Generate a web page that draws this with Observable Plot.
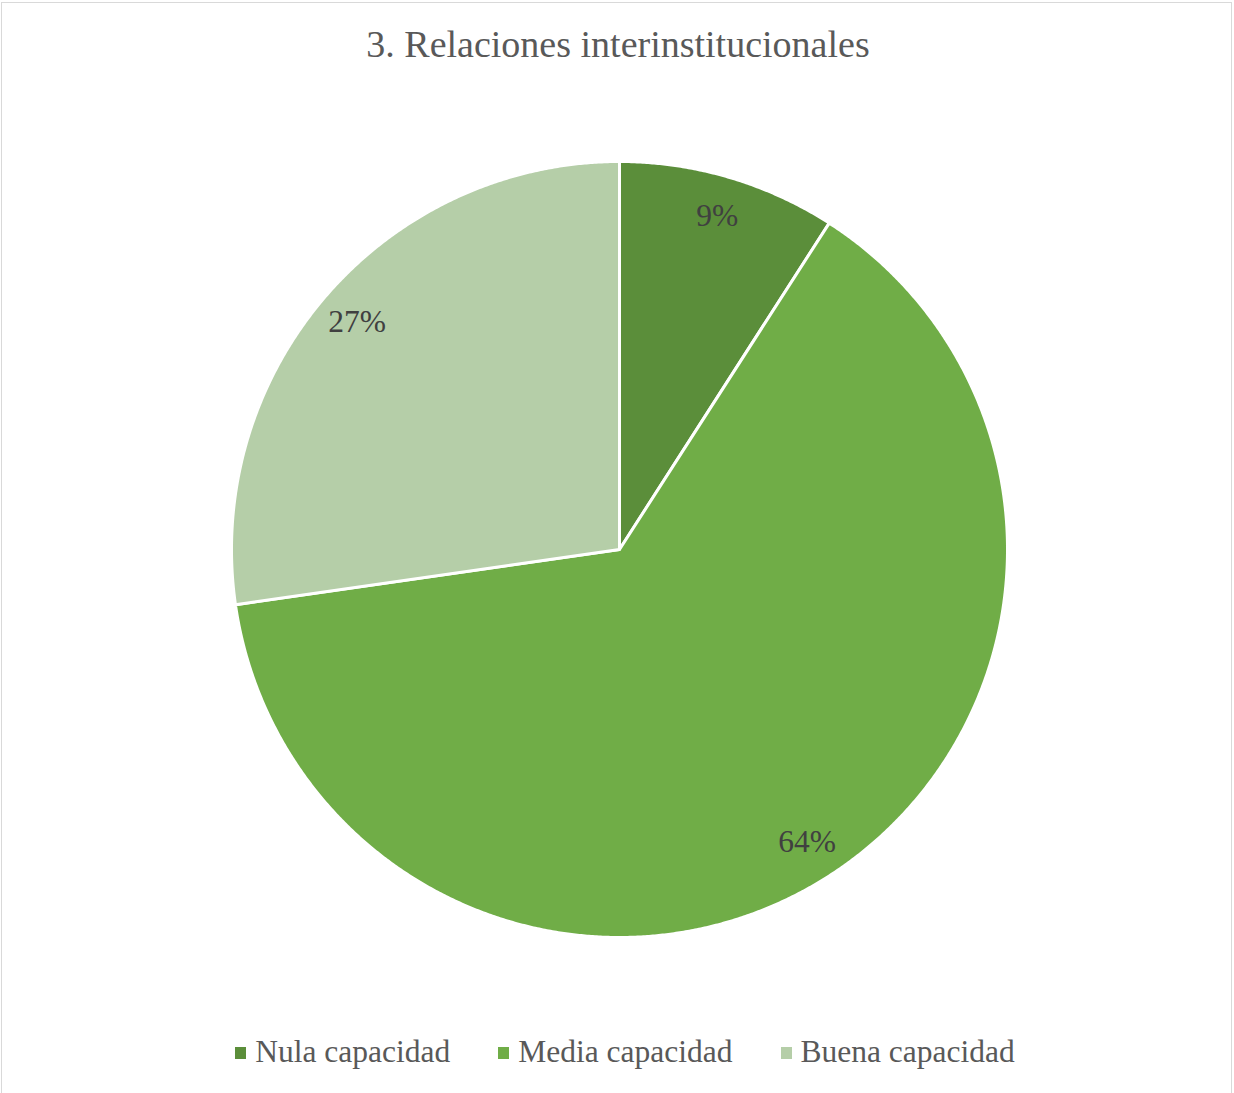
<!DOCTYPE html>
<html>
<head>
<meta charset="utf-8">
<script src="https://cdn.jsdelivr.net/npm/d3@7"></script>
<script src="https://cdn.jsdelivr.net/npm/@observablehq/plot@0.6"></script>
<style>
  html, body { margin: 0; padding: 0; background: #fff; }
  #frame { position: absolute; left: 1px; top: 2px; width: 1231px; height: 1100px; border: 1.5px solid #d9d9d9; box-sizing: border-box; }
  #title { position: absolute; left: 0; top: 25px; width: 1236px; text-align: center; font-family: "Liberation Serif", "Times New Roman", serif; font-size: 38px; line-height: 38px; color: #595959; white-space: nowrap; }
  #chart { position: absolute; left: 0; top: 100px; }
  #legend { position: absolute; left: 0; top: 1036px; width: 1250px; display: flex; justify-content: center; font-family: "Liberation Serif", "Times New Roman", serif; font-size: 31.5px; line-height: 32px; color: #595959; white-space: nowrap; }
  .item { display: flex; align-items: center; margin: 0 24px; }
  .sw { width: 11px; height: 12px; margin-right: 9px; margin-top: 2px; }
</style>
</head>
<body>
<div id="frame"></div>
<div id="title"></div>
<div id="chart"></div>
<div id="legend"></div>
<script>
const titleText = "3. Relaciones interinstitucionales";
const categories = ["Nula capacidad", "Media capacidad", "Buena capacidad"];
const values = [9.09, 63.64, 27.27];
const labels = ["9%", "64%", "27%"];
const colors = ["#5B8E3A", "#70AD47", "#B5CEA8"];

document.getElementById("title").textContent = titleText;

// layout
const W = 1234, H = 900, R = 388, cx = 619, cy = 449;

const total = d3.sum(values);
let acc = 0;
const slices = categories.map((c, i) => {
  const a0 = acc / total * 2 * Math.PI;
  acc += values[i];
  const a1 = acc / total * 2 * Math.PI;
  return {cat: c, a0, a1, label: labels[i]};
});

const pts = [];
for (const s of slices) {
  pts.push({cat: s.cat, x: 0, y: 0});
  const n = Math.max(2, Math.ceil((s.a1 - s.a0) / 0.005));
  for (let k = 0; k <= n; k++) {
    const a = s.a0 + (s.a1 - s.a0) * k / n;
    pts.push({cat: s.cat, x: Math.sin(a), y: Math.cos(a)});
  }
}

const lab = slices.map(s => {
  const m = (s.a0 + s.a1) / 2;
  return {label: s.label, x: 0.895 * Math.sin(m), y: 0.895 * Math.cos(m)};
});

const chart = Plot.plot({
  width: W,
  height: H,
  margin: 0,
  x: {domain: [-cx / R, (W - cx) / R], axis: null},
  y: {domain: [-(H - cy) / R, cy / R], axis: null},
  color: {domain: categories, range: colors},
  marks: [
    Plot.line(pts, {x: "x", y: "y", z: "cat", fill: "cat", stroke: "white", strokeWidth: 3, strokeLinejoin: "round", curve: "linear-closed"}),
    Plot.text(lab, {x: "x", y: "y", text: "label", fill: "#404040", fontSize: 31.5, fontFamily: "Liberation Serif", textAnchor: "middle", lineAnchor: "middle"})
  ]
});
document.getElementById("chart").appendChild(chart);

const lg = document.getElementById("legend");
categories.forEach((c, i) => {
  const it = document.createElement("div");
  it.className = "item";
  const sw = document.createElement("div");
  sw.className = "sw";
  sw.style.background = colors[i];
  const t = document.createElement("span");
  t.textContent = c;
  it.appendChild(sw); it.appendChild(t);
  lg.appendChild(it);
});
</script>
</body>
</html>
